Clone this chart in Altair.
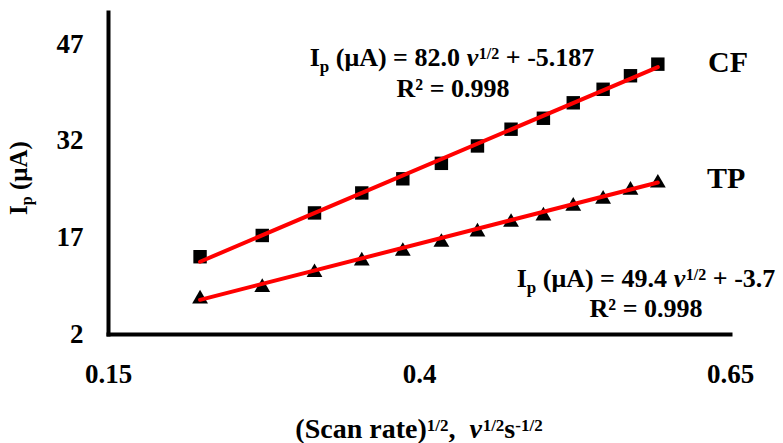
import altair as alt
import pandas as pd

# ---------------- data ----------------
sqrt_scan_rate = [0.224, 0.274, 0.316, 0.354, 0.387, 0.418, 0.447, 0.474, 0.500, 0.524, 0.548, 0.570, 0.592]
ip_cf = [14.0, 17.3, 20.8, 23.9, 26.1, 28.5, 31.2, 33.8, 35.5, 37.9, 40.0, 42.1, 43.9]
ip_tp = [7.8, 9.6, 11.9, 13.7, 15.2, 16.6, 18.2, 19.7, 20.7, 22.2, 23.3, 24.7, 25.8]
series_names = ["CF", "TP"]
x_tick_values = [0.15, 0.4, 0.65]
y_tick_values = [2, 17, 32, 47]
x_domain = [0.15, 0.65]
y_domain = [2, 52]

eq_cf = ["I", "p", " (μA) = 82.0 ", "ν", "1/2", " + -5.187"]
r2_cf = ["R² = 0.998"]
eq_tp = ["I", "p", " (μA) = 49.4 ", "ν", "1/2", " + -3.7"]
r2_tp = ["R² = 0.998"]
x_title = ["(Scan rate)", "1/2", ",  ", "ν", "1/2", "s", "-1/2"]
y_title = ["I", "p", " (μA)"]

# ---------------- layout ----------------
FONT = "Times New Roman, Liberation Serif, Tinos, DejaVu Serif, serif"
PAD_L, PAD_T, PAD_R, PAD_B = 108, 12, 53, 109
W_PLOT, H_PLOT = 622, 322

df = pd.DataFrame({
    "x": sqrt_scan_rate + sqrt_scan_rate,
    "ip": ip_cf + ip_tp,
    "series": [series_names[0]] * len(ip_cf) + [series_names[1]] * len(ip_tp),
})

axis_common = dict(title=None, grid=False, ticks=False, tickSize=0, domainColor="black",
                   domainWidth=4, domainCap="square", labelFont=FONT, labelFontSize=27,
                   labelFontWeight="bold", labelColor="black",
                   labelFlush=False, labelOverlap=False)

x_enc = alt.X("x:Q", scale=alt.Scale(domain=x_domain, nice=False, zero=False),
              axis=alt.Axis(values=x_tick_values, labelPadding=27, format=".2~f", **axis_common))
y_enc = alt.Y("ip:Q", scale=alt.Scale(domain=y_domain, nice=False, zero=False),
              axis=alt.Axis(values=y_tick_values, labelPadding=25, labelAlign="right",
                            labelBaseline="middle", format="d", **axis_common))

base = alt.Chart(df)
squares = base.transform_filter(alt.datum.series == "CF").mark_point(
    shape="square", filled=True, size=180, color="black", opacity=1, strokeWidth=0
).encode(x=x_enc, y=y_enc)
triangles = base.transform_filter(alt.datum.series == "TP").mark_point(
    shape="triangle-up", filled=True, size=250, color="black", opacity=1, strokeWidth=0
).encode(x=x_enc, y=y_enc)
fits = base.transform_regression("x", "ip", groupby=["series"]).mark_line(
    color="#ff0000", strokeWidth=4, strokeCap="round"
).encode(x=x_enc, y=y_enc, detail="series:N")

# ---------------- rich text helpers ----------------
W = {' ': 250, '(': 333, ')': 333, 'μ': 576, 'A': 722, '=': 570, '+': 570, '-': 333,
     '.': 250, '/': 278, ',': 250, 'S': 556, 'c': 444, 'a': 500, 'n': 556, 'r': 444,
     't': 333, 'e': 444, 's': 389, 'I': 389, 'p': 556, 'R': 722, '²': 300, 'C': 722,
     'F': 611, 'T': 667, 'P': 611, 'ν': 470}


def tw(text, size):
    return sum(W.get(ch, 500) for ch in text) / 1000.0 * size


def seg(text, size, px, py, italic=False, angle=0):
    return alt.Chart(pd.DataFrame({"t": [text]})).mark_text(
        align="left", baseline="alphabetic", font=FONT, fontSize=size, fontWeight="bold",
        fontStyle="italic" if italic else "normal", color="black", angle=angle
    ).encode(x=alt.value(px - PAD_L), y=alt.value(py - PAD_T), text="t:N")


def rich_h(parts, styles, cx, base_y):
    widths = [tw(p, s[0]) for p, s in zip(parts, styles)]
    x = cx - sum(widths) / 2
    out = []
    for p, (size, italic, shift), w in zip(parts, styles, widths):
        lead = len(p) - len(p.lstrip())
        if p.strip():
            out.append(seg(p.strip(), size, x + tw(" " * lead, size), base_y + shift, italic))
        x += w
    return out


def rich_v(parts, styles, base_x, cy):
    widths = [tw(p, s[0]) for p, s in zip(parts, styles)]
    y = cy + sum(widths) / 2
    out = []
    for p, (size, italic, shift), w in zip(parts, styles, widths):
        lead = len(p) - len(p.lstrip())
        if p.strip():
            out.append(seg(p.strip(), size, base_x + shift, y - tw(" " * lead, size), italic, angle=270))
        y -= w
    return out


eq_styles = [(26, False, 0), (17, False, 6), (26, False, 0), (26, True, 0), (16, False, -7), (26, False, 0)]
texts = []
texts += rich_h(eq_cf, eq_styles, 452, 66)
texts += rich_h(r2_cf, [(26, False, 0)], 453, 97)
texts += rich_h(eq_tp, eq_styles, 646, 287)
texts += rich_h(r2_tp, [(26, False, 0)], 646, 317)
texts.append(seg(series_names[0], 30, 708, 72))
texts.append(seg(series_names[1], 30, 707, 188))
title_styles = [(28, False, 0), (17, False, -7), (28, False, 0), (28, True, 0),
                (17, False, -7), (28, False, 0), (17, False, -7)]
texts += rich_h(x_title, title_styles, 419, 438)
texts += rich_v(y_title, [(25, False, 0), (16, False, 5), (25, False, 0)], 27, 178)

chart = alt.layer(squares, triangles, fits, *texts).properties(
    width=W_PLOT, height=H_PLOT,
    padding={"left": PAD_L, "top": PAD_T, "right": PAD_R, "bottom": PAD_B},
    autosize=alt.AutoSizeParams(type="none"),
    background="white",
).configure_view(stroke=None)

chart.save("out.html", embed_options={"renderer": "svg", "actions": False})
